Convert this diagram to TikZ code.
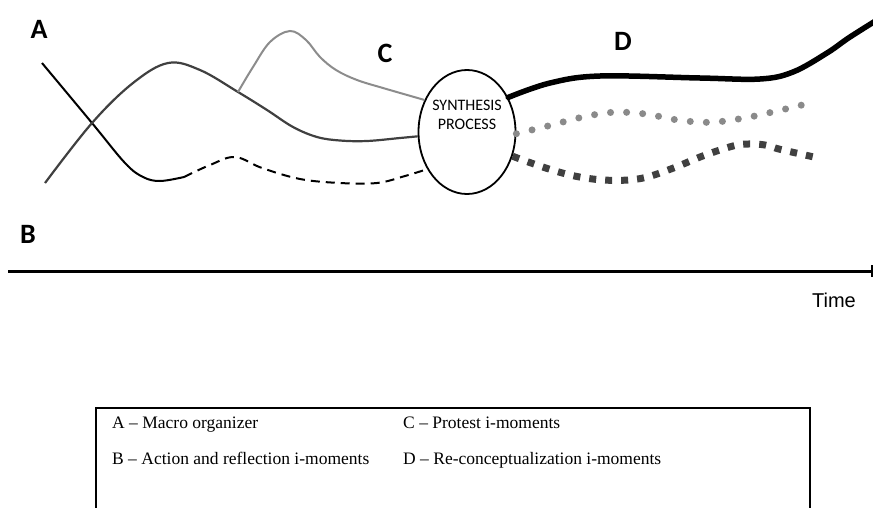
\documentclass[tikz,border=0pt]{standalone}
\usepackage{fontspec}
\setmainfont{Liberation Serif}
\newfontfamily\calibrifont{Carlito}
\newfontfamily\arialfont{Liberation Sans}
\usetikzlibrary{shapes.geometric}

\definecolor{darkcurve}{HTML}{404040}
\definecolor{lightcurve}{HTML}{8C8C8C}
\definecolor{dotcurve}{HTML}{8A8A8A}
\definecolor{squarecurve}{HTML}{404040}

\begin{document}
\begin{tikzpicture}[x=1pt,y=-1pt,
  lettermark/.style={font=\calibrifont\bfseries\fontsize{28}{32}\selectfont, inner sep=0pt},
  legendtext/.style={font=\fontsize{17.5}{21}\selectfont, anchor=base west, inner sep=0pt},
  synbox/.style={draw, ellipse, line width=1.8pt, minimum width=97pt, minimum height=124pt, inner sep=0pt},
  blackcurve/.style={line width=2pt, black},
  dashcurve/.style={line width=2pt, black, dash pattern=on 9pt off 6pt},
  graycurve/.style={line width=2.2pt, darkcurve},
  palecurve/.style={line width=2pt, lightcurve},
  boldcurve/.style={line width=5.5pt, black, line cap=round},
  dotline/.style={line width=7pt, dotcurve, line cap=round, dash pattern=on 0pt off 16.1pt},
  squareline/.style={line width=7pt, squarecurve, dash pattern=on 7pt off 9pt},
]
\clip (0,0) rectangle (873,507);

% letter marks
\node[lettermark] (la) at (39,29) {A};
\node[lettermark] (lb) at (28,234) {B};
\node[lettermark] (lc) at (385,53) {C};
\node[lettermark] (ld) at (623,41) {D};

% synthesis ellipse
\node[synbox] (syn) at (467,132) {};
\node[align=center, font=\calibrifont\fontsize{16}{19}\selectfont, inner sep=0pt] (syntxt) at (467,115) {SYNTHESIS\\PROCESS};

\coordinate (dEnd) at (syn.223);
\coordinate (gEnd) at (syn.185);
\coordinate (lEnd) at (syn.143);
\coordinate (kStart) at (syn.40);
\coordinate (oStart) at (syn.-2);
\coordinate (qStart) at (syn.-28);

% macro organizer: solid then dashed
\draw[blackcurve] plot[smooth, tension=0.6] coordinates {(42,63) (92,123) (125,163) (143,177) (160,181) (184,177)};
\draw[dashcurve] plot[smooth, tension=0.6] coordinates {(184,177) (210,165) (235,157) (262,168) (300,179) (340,183) (377,183) (405,176) (dEnd)};

% dark grey wave
\draw[graycurve] plot[smooth, tension=0.6] coordinates {(45,183) (92,123) (133,83) (168,63) (200,70) (238,92) (267,110) (293,127) (317,137) (340,140.5) (367,141) (400,138) (gEnd)};

% light grey branch
\draw[palecurve] plot[smooth, tension=0.6] coordinates {(238,92) (253,67) (270,42) (290,31) (306,40) (320,57) (336,70) (357,80) (383,88) (lEnd)};

% re-conceptualization lines
\draw[boldcurve] plot[smooth, tension=0.6] coordinates {(kStart) (550,83) (600,76) (700,78) (760,79) (793,72) (827,53) (850,37) (885,15)};
\draw[dotline] plot[smooth, tension=0.6] coordinates {(oStart) (549,125.7) (581.7,117.3) (613,112.3) (645.7,114) (677.7,120) (710,122.3) (742.7,118.3) (774,111.7) (806,104)};
\draw[squareline] plot[smooth, tension=0.6] coordinates {(qStart) (546.7,168.3) (578,176.7) (610,180.3) (641.7,178.3) (672.7,168.3) (702.7,156) (733,146) (748,144) (765,145) (780,149.3) (814,157)};

% time axis
\coordinate (t0) at (8,271);
\coordinate (t1) at (872,271);
\draw[line width=3pt] (t0) -- (t1);
\draw[line width=1.5pt] ([yshift=6pt]t1) -- ([yshift=-6pt]t1);
\node[font=\arialfont\fontsize{20}{24}\selectfont, anchor=base, inner sep=0pt] (time) at (834,307) {Time};

% legend
\coordinate (bl) at (96,520);
\coordinate (tr) at (810,408);
\draw[line width=1.7pt] (bl) |- (tr) -- (810,520);
\node[legendtext] (ka) at (112,428) {A – Macro organizer};
\node[legendtext] (kb) at (112,464) {B – Action and reflection i-moments};
\node[legendtext] (kc) at (403,428) {C – Protest i-moments};
\node[legendtext] (kd) at (403,464) {D – Re-conceptualization i-moments};
\end{tikzpicture}
\end{document}
